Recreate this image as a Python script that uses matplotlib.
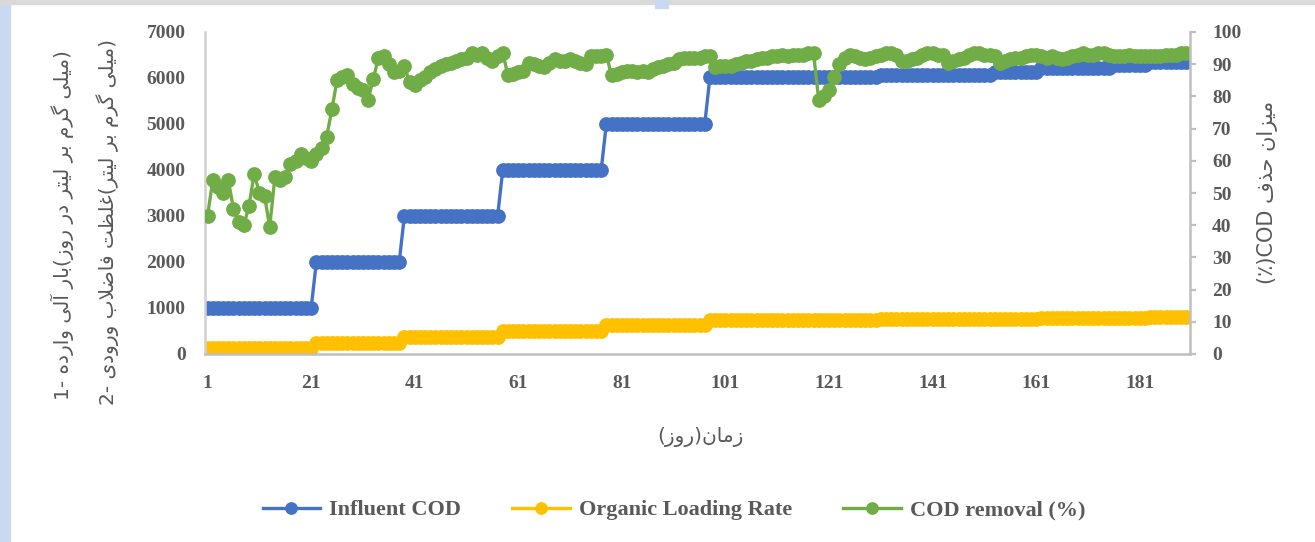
import numpy as np
import matplotlib
matplotlib.use('Agg')
import matplotlib.pyplot as plt
from matplotlib import font_manager
from matplotlib.ft2font import FT2Font
from matplotlib.patches import Rectangle

days = np.arange(1, 191)

# influent COD steps (mg/L) and how many days each level lasts
cod_levels = [1000, 2000, 3000, 4000, 5000, 6020, 6065, 6140, 6210, 6280, 6350]
cod_runs = [21, 17, 19, 20, 20, 33, 22, 9, 14, 7, 8]
olr_levels = [125, 250, 375, 500, 625, 750, 760, 770, 780, 790, 800]

removal = [
    43, 54, 52, 50, 54, 45, 41, 40, 46, 56,
    50, 49, 39.5, 55, 54, 55, 59, 60, 62, 61,
    60, 62, 64, 67.5, 76, 85, 86, 86.5, 84, 82.5,
    82, 79, 85.5, 92, 92.5, 90, 87.5, 88, 89.5, 84.5,
    83.5, 85, 86, 87.5, 88.5, 89.5, 90, 90.5, 91, 91.5,
    92, 93.5, 93, 93.5, 92, 91, 92.5, 93.5, 86.5, 87,
    87.5, 88, 90.5, 90, 89.5, 89, 90.5, 91.5, 91, 91,
    91.5, 91, 90.5, 90, 92.5, 92.5, 92.5, 93, 86.5, 87,
    87.5, 88, 88, 87.5, 88, 87.5, 88.5, 89, 89.5, 90,
    90.5, 91.5, 92, 92, 92, 92, 92.5, 92.5, 89, 89.5,
    89.5, 89.5, 90, 90.5, 91, 91, 91.5, 92, 92, 92.5,
    92.5, 93, 92.5, 93, 93, 93, 93.5, 93.5, 79, 80,
    82, 86, 90, 92, 93, 92.5, 92, 91.5, 92, 92.5,
    93, 93.5, 93.5, 93, 91, 91, 91.5, 92, 93, 93.5,
    93.5, 93, 93, 90.5, 91, 91.5, 92, 93, 93.5, 93.5,
    93, 93, 92.5, 90.5, 91, 91.5, 92, 92, 92.5, 93,
    93, 92.5, 92, 92.5, 92, 91.5, 92, 92.5, 93, 93.5,
    93, 93, 93.5, 93.5, 93, 92.5, 92.5, 92.5, 93, 92.5,
    92.5, 92.5, 92.5, 92.5, 92.5, 93, 93, 93, 93.5, 93.5,
]

x_ticks = list(range(1, 191, 20))
series_names = ['Influent COD', 'Organic Loading Rate', 'COD removal (%)']

GRAY = '#595959'
AXIS = '#bfbfbf'


# ------------------------------------------------------------
# matplotlib has no arabic shaping, so build presentation forms
# by hand and write the string in visual (left to right) order
# ------------------------------------------------------------
def build_forms():
    path = font_manager.findfont('DejaVu Sans')
    cmap = FT2Font(path).get_charmap()
    forms = {
        'ب': (0xFE8F, 0xFE90, 0xFE91, 0xFE92),
        'ت': (0xFE95, 0xFE96, 0xFE97, 0xFE98),
        'ح': (0xFEA1, 0xFEA2, 0xFEA3, 0xFEA4),
        'د': (0xFEA9, 0xFEAA),
        'ذ': (0xFEAB, 0xFEAC),
        'ر': (0xFEAD, 0xFEAE),
        'ز': (0xFEAF, 0xFEB0),
        'ض': (0xFEBD, 0xFEBE, 0xFEBF, 0xFEC0),
        'ظ': (0xFEC5, 0xFEC6, 0xFEC7, 0xFEC8),
        'غ': (0xFECD, 0xFECE, 0xFECF, 0xFED0),
        'ف': (0xFED1, 0xFED2, 0xFED3, 0xFED4),
        'ل': (0xFEDD, 0xFEDE, 0xFEDF, 0xFEE0),
        'م': (0xFEE1, 0xFEE2, 0xFEE3, 0xFEE4),
        'ن': (0xFEE5, 0xFEE6, 0xFEE7, 0xFEE8),
        'ه': (0xFEE9, 0xFEEA, 0xFEEB, 0xFEEC),
        'و': (0xFEED, 0xFEEE),
        'ا': (0xFE8D, 0xFE8E),
        'آ': (0xFE81, 0xFE82),
        'ی': (0xFBFC, 0xFBFD, 0xFBFE, 0xFBFF),
        'گ': (0xFB92, 0xFB93, 0xFB94, 0xFB95),
    }
    if 0xFBFC not in cmap:
        forms['ی'] = (0xFEEF, 0xFEF0, 0xFEF3, 0xFEF4)
    if 0xFB92 not in cmap:
        forms['گ'] = (0xFED9, 0xFEDA, 0xFEDB, 0xFEDC)
    return {k: tuple(chr(c) for c in v) for k, v in forms.items()}


FORMS = build_forms()


def shape(text):
    out = []
    i = 0
    n = len(text)
    while i < n:
        c = text[i]
        if c not in FORMS:
            out.append(c)
            i += 1
            continue
        prev = text[i - 1] if i > 0 else None
        join_prev = prev in FORMS and len(FORMS[prev]) == 4
        if c == 'ل' and i + 1 < n and text[i + 1] == 'ا':
            out.append('\uFEFC' if join_prev else '\uFEFB')
            i += 2
            continue
        nxt = text[i + 1] if i + 1 < n else None
        f = FORMS[c]
        join_next = len(f) == 4 and nxt in FORMS
        if join_prev and join_next:
            out.append(f[3])
        elif join_prev:
            out.append(f[1])
        elif join_next:
            out.append(f[2])
        else:
            out.append(f[0])
        i += 1
    return ''.join(out)[::-1]


def main():
    influent = np.repeat(cod_levels, cod_runs)
    olr = np.repeat(olr_levels, cod_runs)

    fig = plt.figure(figsize=(13.15, 5.42), dpi=100)
    fig.patch.set_facecolor('white')
    # page decoration around the pasted chart
    fig.patches.append(Rectangle((0, 0), 10 / 1315, 1, transform=fig.transFigure,
                                 color='#c9daf0', zorder=0))
    fig.patches.append(Rectangle((0, 1 - 4 / 542), 1, 4 / 542, transform=fig.transFigure,
                                 color='#d9d9d9', zorder=0))
    fig.patches.append(Rectangle((655 / 1315, 1 - 8 / 542), 13 / 1315, 8 / 542,
                                 transform=fig.transFigure, color='#c9daf0', zorder=1))

    ax = fig.add_axes([205 / 1315, 1 - 354 / 542, 985 / 1315, 322 / 542])
    ax2 = ax.twinx()

    l1, = ax.plot(days, influent, color='#4472C4', lw=2.4, marker='o', ms=9.6,
                  label=series_names[0])
    l2, = ax.plot(days, olr, color='#FFC000', lw=2.4, marker='o', ms=9.6,
                  label=series_names[1])
    l3, = ax2.plot(days, removal, color='#70AD47', lw=2.4, marker='o', ms=9.6,
                   label=series_names[2])

    ax.set_xlim(0.5, 190.7)
    ax.set_ylim(0, 7000)
    ax2.set_ylim(0, 100)
    ax.set_xticks(x_ticks)
    ax.set_yticks(range(0, 7001, 1000))
    ax2.set_yticks(range(0, 101, 10))

    for a in (ax, ax2):
        a.spines['top'].set_visible(False)
    ax.spines['right'].set_visible(False)
    ax2.spines['left'].set_visible(False)
    ax2.spines['bottom'].set_visible(False)
    ax.spines['left'].set_color('#d0d0d0')
    ax.spines['bottom'].set_color(AXIS)
    ax2.spines['right'].set_color(AXIS)
    for s in (ax.spines['left'], ax.spines['bottom'], ax2.spines['right']):
        s.set_linewidth(1.8)

    ax.tick_params(axis='y', length=0, pad=14)
    ax.tick_params(axis='x', length=0, pad=15)
    ax2.tick_params(axis='y', length=4, width=1.6, color=AXIS, pad=12)
    for lbl in ax.get_xticklabels() + ax.get_yticklabels() + ax2.get_yticklabels():
        lbl.set_fontfamily('Liberation Serif')
        lbl.set_fontweight('bold')
        lbl.set_fontsize(14)
        lbl.set_color(GRAY)

    fa = ['DejaVu Sans']
    left1 = '1- ' + shape('بار آلی وارده') + '(' + shape('میلی گرم بر لیتر در روز') + ')'
    left2 = '2- ' + shape('غلظت فاضلاب ورودی') + '(' + shape('میلی گرم بر لیتر') + ')'
    right = '(٪)COD ' + shape('میزان حذف')
    xlab = '(' + shape('روز') + ')' + shape('زمان')

    fig.text(62 / 1315, 1 - 225 / 542, left1, rotation=90, ha='center', va='center',
             family=fa, fontsize=14.5, color=GRAY)
    fig.text(108 / 1315, 1 - 222 / 542, left2, rotation=90, ha='center', va='center',
             family=fa, fontsize=14.5, color=GRAY)
    fig.text(1268 / 1315, 1 - 192 / 542, right, rotation=90, ha='center', va='center',
             family=fa, fontsize=15, color=GRAY)
    fig.text(700 / 1315, 1 - 437 / 542, xlab, ha='center', va='center',
             family=fa, fontsize=14.5, color=GRAY)

    fig.legend([l1, l2, l3], series_names, loc='center', ncol=3, frameon=False,
               bbox_to_anchor=(674 / 1315, 1 - 510 / 542),
               prop={'family': 'Liberation Serif', 'weight': 'bold', 'size': 16},
               labelcolor=GRAY, handlelength=2.6, handletextpad=0.4,
               columnspacing=2.3, markerscale=0.85)

    fig.savefig('out.png', dpi=100)


if __name__ == '__main__':
    main()
